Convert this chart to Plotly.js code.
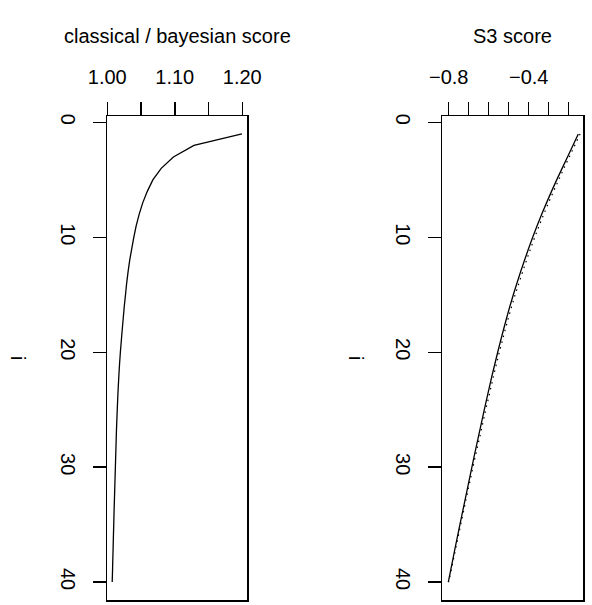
<!DOCTYPE html>
<html><head><meta charset="utf-8">
<script src="https://cdn.plot.ly/plotly-3.0.1.min.js"></script>
<style>html,body{margin:0;padding:0;background:#fff;}</style>
</head><body><div id="chart" style="width:592px;height:605px;"></div>
<script>
const idx = [1,2,3,4,5,6,7,8,9,10,11,12,13,14,15,16,17,18,19,20,21,22,23,24,25,26,27,28,29,30,31,32,33,34,35,36,37,38,39,40];
const classicalScore = [1.1995,1.1284,1.0980,1.0799,1.0675,1.0593,1.0525,1.0472,1.0428,1.0393,
  1.0362,1.0332,1.0308,1.0287,1.0270,1.0252,1.0237,1.0222,1.0208,1.0194,
  1.0182,1.0172,1.0163,1.0155,1.0148,1.0141,1.0135,1.0130,1.0125,1.0120,
  1.0115,1.0110,1.0105,1.0100,1.0096,1.0091,1.0087,1.0082,1.0078,1.0073];
const s3Solid = [-0.152,-0.179,-0.206,-0.233,-0.260,-0.286,-0.311,-0.335,-0.358,-0.380,
  -0.401,-0.421,-0.4405,-0.459,-0.477,-0.494,-0.510,-0.5255,-0.5405,-0.555,
  -0.569,-0.583,-0.596,-0.609,-0.622,-0.6345,-0.647,-0.6595,-0.672,-0.684,
  -0.696,-0.708,-0.720,-0.732,-0.744,-0.7558,-0.7676,-0.779,-0.7905,-0.802];
const s3Dotted = [-0.143,-0.170,-0.197,-0.224,-0.250,-0.276,-0.301,-0.325,-0.348,-0.370,
  -0.391,-0.411,-0.4305,-0.449,-0.468,-0.485,-0.5015,-0.517,-0.532,-0.547,
  -0.561,-0.575,-0.588,-0.601,-0.615,-0.6275,-0.640,-0.653,-0.666,-0.679,
  -0.691,-0.7035,-0.7155,-0.7275,-0.740,-0.752,-0.764,-0.776,-0.788,-0.800];
const leftTickVals = [1.00,1.05,1.10,1.15,1.20];
const leftTickText = ['1.00','','1.10','','1.20'];
const rightTickVals = [-0.8,-0.7,-0.6,-0.5,-0.4,-0.3,-0.2];
const rightTickText = ['\u22120.8','','','','\u22120.4','',''];
const yTickVals = [0,10,20,30,40];
const yTickText = ['0','10','20','30','40'];
const panelTitles = ['classical / bayesian score','S3 score'];
const yTitle = 'i';

const W = 592, H = 605;
const FONT = {family:'Liberation Sans, Arial, sans-serif', size:20, color:'#000'};
const leftBox = [107, 247], rightBox = [442.3, 583.3], boxY = [116, 600];
const yDom = [(H-boxY[1])/H, (H-boxY[0])/H];

const traces = [
  {x: classicalScore, y: idx, xaxis:'x', yaxis:'y', mode:'lines', line:{color:'#000', width:1.3, simplify:false}, hoverinfo:'skip'},
  {x: s3Solid, y: idx, xaxis:'x2', yaxis:'y2', mode:'lines', line:{color:'#000', width:1.3, simplify:false}, hoverinfo:'skip'},
  {x: s3Dotted, y: idx, xaxis:'x2', yaxis:'y2', mode:'lines', line:{color:'#000', width:1.2, dash:'1.5px,4.5px', simplify:false}, hoverinfo:'skip'}
];

function xAx(dom, range, tv, tt, anchor){
  return {domain:[dom[0]/W, dom[1]/W], range:range, side:'top', anchor:anchor,
    tickmode:'array', tickvals:tv, ticktext:tt, ticks:'outside', ticklen:13, tickwidth:1.5, tickcolor:'#000',
    showline:true, mirror:true, linecolor:'#000', linewidth:1.5, showgrid:false, zeroline:false,
    tickfont:FONT, tickangle:0, ticklabelstandoff:10, fixedrange:true};
}
function yAx(anchor){
  return {domain:yDom, range:[41.56,-0.56], anchor:anchor,
    tickmode:'array', tickvals:yTickVals, ticktext:yTickText, ticks:'outside', ticklen:13, tickwidth:1.5, tickcolor:'#000',
    showline:true, mirror:true, linecolor:'#000', linewidth:1.5, showgrid:false, zeroline:false,
    tickfont:FONT, tickangle:90, ticklabelstandoff:8, fixedrange:true};
}

const layout = {
  width:W, height:H, margin:{l:0,r:0,t:0,b:0}, paper_bgcolor:'#fff', plot_bgcolor:'#fff',
  showlegend:false, font:FONT,
  xaxis: xAx(leftBox, [0.9996,1.2070], leftTickVals, leftTickText, 'y'),
  yaxis: yAx('x'),
  xaxis2: xAx(rightBox, [-0.832,-0.127], rightTickVals, rightTickText, 'y2'),
  yaxis2: yAx('x2'),
  annotations: [
    {text:panelTitles[0], xref:'paper', yref:'paper', x:(leftBox[0]+leftBox[1])/2/W, y:1-36/H, xanchor:'center', yanchor:'middle', showarrow:false, font:FONT},
    {text:panelTitles[1], xref:'paper', yref:'paper', x:(rightBox[0]+rightBox[1])/2/W, y:1-36/H, xanchor:'center', yanchor:'middle', showarrow:false, font:FONT},
    {text:yTitle, xref:'paper', yref:'paper', x:18/W, y:1-358/H, xanchor:'center', yanchor:'middle', textangle:90, showarrow:false, font:FONT},
    {text:yTitle, xref:'paper', yref:'paper', x:356/W, y:1-358/H, xanchor:'center', yanchor:'middle', textangle:90, showarrow:false, font:FONT}
  ]
};
Plotly.newPlot('chart', traces, layout, {staticPlot:true, displayModeBar:false});
</script></body></html>
